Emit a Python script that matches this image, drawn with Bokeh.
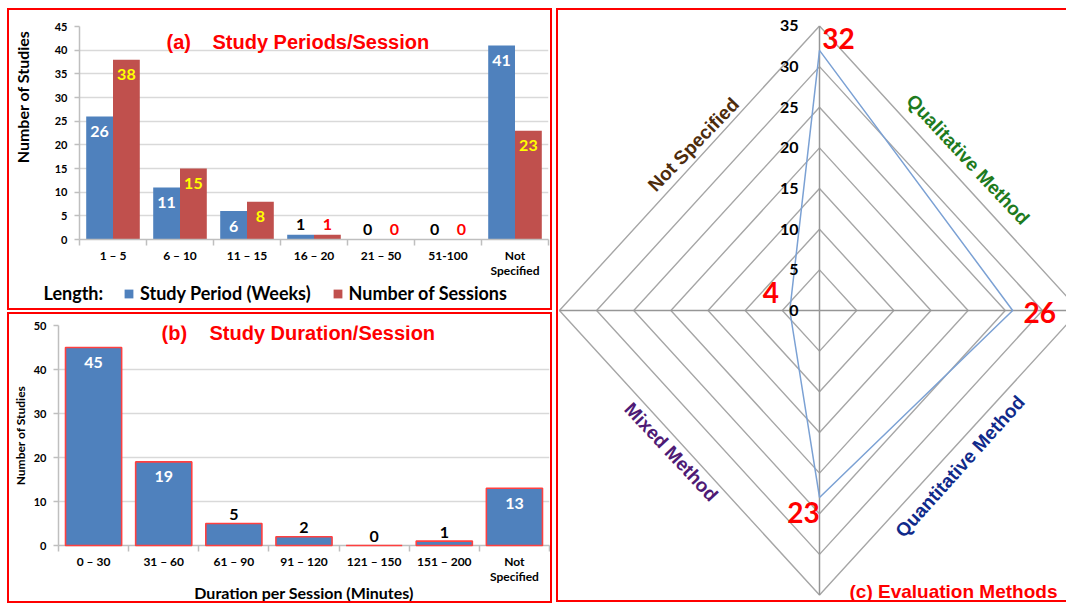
import math
from bokeh.plotting import figure
from bokeh.models import (ColumnDataSource, Range1d, FixedTicker, LabelSet, Label,
                          Legend, LegendItem, InlineStyleSheet)
from bokeh.layouts import row, column
from bokeh.core.properties import value
from bokeh.embed import file_html
from bokeh.resources import INLINE

# ---------------- data ----------------
# (a) Study Periods/Session
length_categories = ["1 – 5", "6 – 10", "11 – 15", "16 – 20", "21 – 50", "51-100", "Not\nSpecified"]
study_period_weeks = [26, 11, 6, 1, 0, 0, 41]
number_of_sessions = [38, 15, 8, 1, 0, 0, 23]
a_y_ticks = [0, 5, 10, 15, 20, 25, 30, 35, 40, 45]

# (b) Study Duration/Session
duration_categories = ["0 – 30", "31 – 60", "61 – 90", "91 – 120", "121 – 150", "151 – 200", "Not\nSpecified"]
duration_studies = [45, 19, 5, 2, 0, 1, 13]
b_y_ticks = [0, 10, 20, 30, 40, 50]

# (c) Evaluation Methods (radar, clockwise from top)
eval_methods = ["Qualitative Method", "Quantitative Method", "Mixed Method", "Not Specified"]
eval_studies = [32, 26, 23, 4]
radar_ticks = [0, 5, 10, 15, 20, 25, 30, 35]

# ---------------- styles ----------------
BLUE = "#4F81BD"
RED_BAR = "#C0504D"
RED = "#FF0000"
YELLOW = "#FFFF00"
GRID = "#D9D9D9"
AXIS = "#BFBFBF"
LATO = "Lato"
ARIAL = "Liberation Sans"

W_L = 556
H_A1, H_A2, H_B = 280, 32, 292
W_YT = 40
W_C, H_C = 510, 604


def red_box_css(left, top, right, bottom):
    css = (":host { position: relative; }\n"
           ":host::after { content: ''; position: absolute; "
           f"left: {left}px; top: {top}px; right: {right}px; bottom: {bottom}px; "
           "border: 2px solid #FF0000; pointer-events: none; z-index: 10; }")
    return [InlineStyleSheet(css=css)]


def blank_figure(w, h, x_range=None, y_range=None):
    p = figure(width=w, height=h,
               x_range=x_range if x_range is not None else Range1d(0, w),
               y_range=y_range if y_range is not None else Range1d(0, h),
               output_backend="svg", toolbar_location=None,
               x_axis_location=None, y_axis_location=None, min_border=0)
    p.outline_line_color = None
    p.background_fill_color = "white"
    p.border_fill_color = "white"
    p.grid.visible = False
    return p


def style_bar_axes(p, cats, yticks):
    n = len(cats)
    p.outline_line_color = None
    p.background_fill_color = "white"
    p.border_fill_color = "white"
    p.xgrid.grid_line_color = None
    yt = FixedTicker(ticks=yticks)
    p.yaxis.ticker = yt
    p.ygrid.ticker = yt
    p.ygrid.grid_line_color = GRID
    p.ygrid.grid_line_width = 1.5
    p.xaxis.ticker = FixedTicker(ticks=list(range(n)),
                                 minor_ticks=[i - 0.5 for i in range(n + 1)])
    p.xaxis.major_label_overrides = {i: c for i, c in enumerate(cats)}
    for ax in (p.xaxis, p.yaxis):
        ax.axis_line_color = AXIS
        ax.axis_line_width = 1.5
        ax.major_label_text_font = LATO
        ax.major_label_text_font_style = "bold"
        ax.major_label_text_color = "black"
    p.xaxis.major_tick_line_color = None
    p.xaxis.minor_tick_line_color = AXIS
    p.xaxis.minor_tick_line_width = 1.5
    p.xaxis.minor_tick_in = 0
    p.xaxis.minor_tick_out = 6
    p.xaxis.major_label_standoff = 2
    p.xaxis.major_label_text_font_size = "12px"
    p.xaxis.major_label_text_line_height = 1.0
    p.yaxis.major_tick_line_color = AXIS
    p.yaxis.major_tick_line_width = 1.5
    p.yaxis.major_tick_in = 0
    p.yaxis.major_tick_out = 5
    p.yaxis.minor_tick_line_color = None
    p.yaxis.major_label_standoff = 7
    p.yaxis.major_label_text_font_size = "11px"


def bar_labels(p, xs, vals, thresh, in_color, out_color, in_off, out_off, level="annotation"):
    src = ColumnDataSource(dict(
        x=xs, y=vals, t=[str(v) for v in vals],
        c=[in_color if v >= thresh else out_color for v in vals],
        yo=[in_off if v >= thresh else out_off for v in vals]))
    p.add_layout(LabelSet(x="x", y="y", text="t", source=src, y_offset="yo",
                          text_color="c", text_align="center", text_baseline="middle",
                          text_font=value(LATO), text_font_style="bold",
                          text_font_size="16px", level=level))


def screen_label(p, x, y, text, color, font, size, align="left", angle=0.0):
    p.add_layout(Label(x=x, y=y, x_units="screen", y_units="screen", text=text,
                       text_color=color, text_font=font, text_font_style="bold",
                       text_font_size=size, text_align=align, text_baseline="middle",
                       angle=angle))


# ---------------- (a) ----------------
A_left, A_right, A_top, A_fh = 79 - W_YT, 8, 26, 216
A_bottom = H_A1 - A_top - A_fh
na = len(length_categories)
pa = figure(width=W_L - W_YT, height=H_A1, x_range=Range1d(-0.5, na - 0.5),
            y_range=Range1d(0, a_y_ticks[-1]), output_backend="svg",
            toolbar_location=None, min_border_left=A_left, min_border_right=A_right,
            min_border_top=A_top, min_border_bottom=A_bottom)
style_bar_axes(pa, length_categories, a_y_ticks)
xa = list(range(na))
xa_blue = [x - 0.2 for x in xa]
xa_red = [x + 0.2 for x in xa]
pa.vbar(x=xa_blue, top=study_period_weeks, width=0.4, fill_color=BLUE, line_color=None)
pa.vbar(x=xa_red, top=number_of_sessions, width=0.4, fill_color=RED_BAR, line_color=None)
bar_labels(pa, xa_blue, study_period_weeks, 5, "white", "black", -15, 10)
bar_labels(pa, xa_red, number_of_sessions, 5, YELLOW, RED, -15, 10)
A_fb = A_top + A_fh
screen_label(pa, 166 - 79, A_fb - 44, "(a)", RED, ARIAL, "20px")
screen_label(pa, 212 - 79, A_fb - 44, "Study Periods/Session", RED, ARIAL, "20px")

# y-axis title strip for (a)
pa_yt = blank_figure(W_YT, H_A1)
pa_yt.add_layout(Label(x=21.5, y=H_A1 - 92.5, text="Number of Studies", angle=math.pi / 2,
                       text_align="center", text_baseline="middle", text_color="black",
                       text_font=LATO, text_font_style="bold", text_font_size="16px"))

# legend strip for (a): zero-size proxy bars carry the legend swatches
pa_lg = blank_figure(W_L, H_A2, x_range=Range1d(-0.5, na - 0.5), y_range=Range1d(0, 1))
lb = pa_lg.vbar(x=xa_blue[:1], top=[0], width=0, fill_color=BLUE, line_color=None)
lr = pa_lg.vbar(x=xa_red[:1], top=[0], width=0, fill_color=RED_BAR, line_color=None)
pa_lg.add_layout(Legend(items=[LegendItem(label="Study Period (Weeks)", renderers=[lb]),
                               LegendItem(label="Number of Sessions", renderers=[lr])],
                        location=(123, 8), orientation="horizontal",
                        border_line_color=None, background_fill_alpha=0, padding=0,
                        margin=0, spacing=21, glyph_width=11, glyph_height=11,
                        label_height=11, label_standoff=6, label_text_font=LATO,
                        label_text_font_style="bold", label_text_font_size="18px",
                        label_text_color="black"))
pa_lg.add_layout(Label(x=43, y=H_A2 - 12.7, x_units="screen", y_units="screen",
                       text="Length:", text_align="left",
                       text_baseline="middle", text_color="black", text_font=LATO,
                       text_font_style="bold", text_font_size="18px"))

block_a = column(row(pa_yt, pa), pa_lg, stylesheets=red_box_css(7, 8, 4, 2))

# ---------------- (b) ----------------
B_left, B_right, B_top, B_fh = 58, 7, 13, 221
B_bottom = H_B - B_top - B_fh
nb = len(duration_categories)
pb = figure(width=W_L, height=H_B, x_range=Range1d(-0.5, nb - 0.5),
            y_range=Range1d(0, b_y_ticks[-1]), output_backend="svg",
            toolbar_location=None, min_border_left=B_left, min_border_right=B_right,
            min_border_top=B_top, min_border_bottom=B_bottom)
style_bar_axes(pb, duration_categories, b_y_ticks)
xb = list(range(nb))
pb.vbar(x=xb, top=duration_studies, width=0.8, fill_color=BLUE, line_color="#FF4040",
        line_width=1.6, level="overlay")
bar_labels(pb, xb, duration_studies, 10, "white", "black", -15, 9, level="overlay")
pb.xaxis.axis_label = "Duration per Session (Minutes)"
pb.xaxis.axis_label_text_font = LATO
pb.xaxis.axis_label_text_font_style = "bold"
pb.xaxis.axis_label_text_font_size = "16px"
pb.xaxis.axis_label_text_color = "black"
pb.xaxis.axis_label_standoff = -4
pb.yaxis.axis_label = "Number of Studies"
pb.yaxis.axis_label_text_font = LATO
pb.yaxis.axis_label_text_font_style = "bold"
pb.yaxis.axis_label_text_font_size = "12px"
pb.yaxis.axis_label_text_color = "black"
pb.yaxis.axis_label_standoff = 3

B_fb = B_top + B_fh
screen_label(pb, 161 - 58, B_fb - 21, "(b)", RED, ARIAL, "20px")
screen_label(pb, 209 - 58, B_fb - 21, "Study Duration/Session", RED, ARIAL, "20px")
block_b = row(pb, stylesheets=red_box_css(7, 0, 4, 1))

# ---------------- (c) radar ----------------
PPX, PPY = 7.43, 8.13      # px per unit
CX, CY = 263, 310          # centre (from left, from top)
pc = blank_figure(W_C, H_C,
                  x_range=Range1d(-CX / PPX, (W_C - CX) / PPX),
                  y_range=Range1d(-(H_C - CY) / PPY, CY / PPY))

thetas = [math.pi / 2, 0.0, -math.pi / 2, math.pi]   # clockwise from top
rmax = radar_ticks[-1]
ring_xs = [[r * math.cos(t) for t in thetas + thetas[:1]] for r in radar_ticks[1:]]
ring_ys = [[r * math.sin(t) for t in thetas + thetas[:1]] for r in radar_ticks[1:]]
pc.multi_line(xs=ring_xs, ys=ring_ys, line_color="#A6A6A6", line_width=1.4)
pc.multi_line(xs=[[0, rmax * math.cos(t)] for t in thetas],
              ys=[[0, rmax * math.sin(t)] for t in thetas],
              line_color="#969696", line_width=1.5)

vx = [v * math.cos(t) for v, t in zip(eval_studies, thetas)]
vy = [v * math.sin(t) for v, t in zip(eval_studies, thetas)]
pc.line(x=vx + vx[:1], y=vy + vy[:1], line_color="#7BA1D4", line_width=1.5)

tick_src = ColumnDataSource(dict(x=[0] * len(radar_ticks), y=radar_ticks,
                                 t=[str(v) for v in radar_ticks]))
pc.add_layout(LabelSet(x="x", y="y", text="t", source=tick_src, x_offset=-21,
                       text_align="right", text_baseline="middle", text_color="black",
                       text_font=value(LATO), text_font_style="bold",
                       text_font_size="16px"))

# value labels, nudged per direction (top, right, bottom, left)
val_dx = [19, 27, -16, -19]
val_dy = [12, -2, -15, 18]
val_src = ColumnDataSource(dict(x=vx, y=vy, t=[str(v) for v in eval_studies],
                                dx=val_dx, dy=val_dy))
pc.add_layout(LabelSet(x="x", y="y", text="t", source=val_src, x_offset="dx",
                       y_offset="dy", text_align="center", text_baseline="middle",
                       text_color=RED, text_font=value(LATO), text_font_style="bold",
                       text_font_size="28px"))

# method labels along outer edges (edge after each axis, clockwise)
mx, my = [], []
for i in range(len(thetas)):
    t1, t2 = thetas[i], thetas[(i + 1) % len(thetas)]
    mx.append(rmax * (math.cos(t1) + math.cos(t2)) / 2)
    my.append(rmax * (math.sin(t1) + math.sin(t2)) / 2)
m_src = ColumnDataSource(dict(
    x=mx, y=my, t=eval_methods,
    dx=[18.5, 10.5, -18.2, 4], dy=[8.7, -13.7, 0.8, 23.7],
    ang=[math.radians(a) for a in (-47, 48, -47, 46)],
    c=["#1E7B1E", "#102A8A", "#4E1A75", "#4D2C0C"]))
pc.add_layout(LabelSet(x="x", y="y", text="t", source=m_src, x_offset="dx",
                       y_offset="dy", angle="ang", text_align="center",
                       text_baseline="middle", text_color="c",
                       text_font=value(ARIAL), text_font_style="bold",
                       text_font_size="19px"))

screen_label(pc, 849 - 556, 13, "(c) Evaluation Methods", RED, ARIAL, "19px")
pc.stylesheets = red_box_css(0, 8, -20, 2)

layout = row(column(block_a, block_b), pc)
open("out.html", "w").write(file_html(layout, INLINE))
